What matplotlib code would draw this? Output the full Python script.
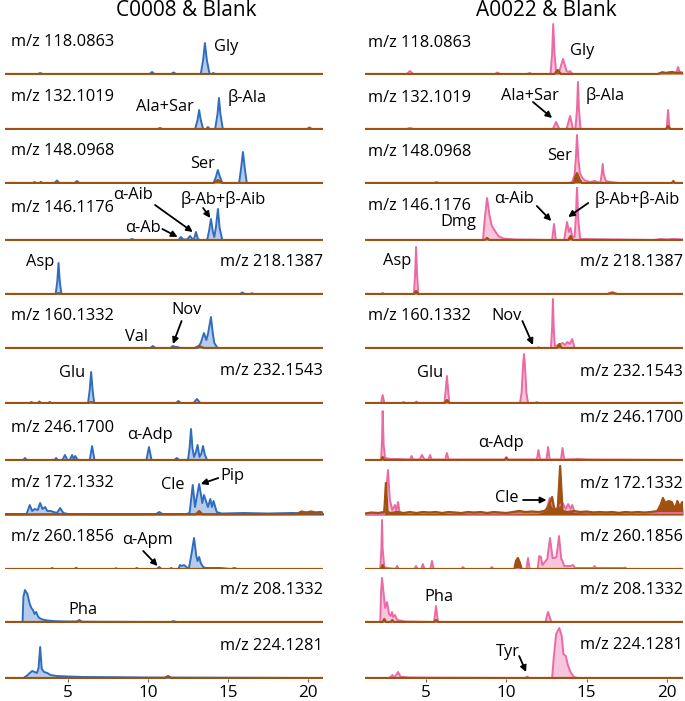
"""
Extracted ion chromatograms, C0008 and A0022 against procedural blank
"""

import matplotlib.pyplot as plt

#---------------------------------------------------------------------------------------------------
# Data (retention time in min, relative intensity)
#---------------------------------------------------------------------------------------------------

# C0008 (left column)
c118_t = [1, 3.1, 3.25, 3.4, 10.1, 10.25, 10.4, 11.45, 11.6, 11.75, 13.3, 13.45, 13.56, 13.68, 13.85,
          14.0, 14.08, 14.2, 21]
c118_y = [0, 0, 1, 0, 0, 2, 0, 0, 1.5, 0, 0, 14, 31, 14, 0, 0, 1, 0, 0]

c132_t = [1, 10.6, 10.75, 10.9, 12.95, 13.1, 13.2, 13.3, 13.45, 13.65, 13.75, 13.85, 14.2, 14.35,
          14.44, 14.53, 14.68, 19.95, 20.1, 20.25, 21]
c132_y = [0, 0, 1, 0, 0, 9, 19, 9, 0, 0, 2, 0, 0, 15, 31, 15, 0, 0, 1.5, 0, 0]

c148_t = [1, 2.8, 2.9, 3.0, 3.2, 3.3, 3.4, 4.15, 4.3, 4.45, 5.4, 5.56, 5.7, 14.1, 14.25, 14.37, 14.5,
          14.65, 15.7, 15.82, 15.94, 16.06, 16.18, 21]
c148_y = [0, 0, 1, 0, 0, 1.2, 0, 0, 2.5, 0, 0, 2, 0, 0, 6, 13, 6, 0, 0, 14, 31, 14, 0, 0]
c148b_t = [1, 14.1, 14.37, 14.65, 21]
c148b_y = [0, 0, 3, 0, 0]

c146_t = [1, 8.85, 9.0, 9.15, 11.9, 12.06, 12.2, 12.45, 12.63, 12.8, 12.88, 13.0, 13.12, 13.25, 13.7,
          13.82, 13.94, 14.06, 14.15, 14.25, 14.375, 14.48, 14.65, 21]
c146_y = [0, 0, 1, 0, 0, 3, 0.5, 0.5, 4, 0.5, 1, 8, 1, 0, 0, 9, 21, 8, 3, 13, 31, 12, 0, 0]

c218_t = [1, 4.22, 4.32, 4.4, 4.48, 4.58, 15.75, 15.9, 16.05, 16.4, 16.5, 16.6, 21]
c218_y = [0, 0, 12, 31, 12, 0, 0, 1.5, 0, 0, 0.8, 0, 0]
c218b_t = [1, 4.3, 4.4, 4.5, 21]
c218b_y = [0, 0, 1, 0, 0]

c160_t = [1, 10.15, 10.3, 10.45, 11.4, 11.56, 11.7, 11.85, 12.0, 13.1, 13.3, 13.5, 13.65, 13.75, 13.94,
          14.05, 14.15, 14.35, 21]
c160_y = [0, 0, 2, 0, 0, 2, 1, 1, 0, 0, 5, 15, 8, 14, 31, 15, 5, 0, 0]
c160b_t = [1, 12.9, 13.2, 13.5, 21]
c160b_y = [0, 0, 2, 0, 0]

c232_t = [1, 2.6, 2.7, 2.8, 3.1, 3.2, 3.3, 3.75, 3.85, 3.95, 6.25, 6.35, 6.44, 6.53, 6.63, 11.75, 11.9,
          12.05, 12.85, 13.06, 13.27, 21]
c232_y = [0, 0, 1, 0, 0, 1.5, 0, 0, 1, 0, 0, 13, 31, 13, 0, 0, 2, 0, 0, 4, 0, 0]
c232b_t = [1, 6.3, 6.44, 6.6, 21]
c232b_y = [0, 0, 1, 0, 0]

c246_t = [1, 2.2, 2.3, 2.4, 4.15, 4.25, 4.35, 4.65, 4.8, 4.95, 5.1, 5.25, 5.35, 5.45, 5.55, 5.65, 6.35,
          6.5, 6.65, 9.9, 10.06, 10.22, 11.65, 11.8, 11.95, 12.5, 12.6, 12.69, 12.78, 12.88, 13.0, 13.1,
          13.22, 13.33, 13.44, 13.56, 13.7, 21]
c246_y = [0, 0, 2, 0, 0, 2, 0, 0, 5, 0, 0, 5, 1, 4, 1, 0, 0, 14, 0, 0, 13, 0, 0, 2, 0, 0, 12, 31, 12,
          3, 8, 15, 3, 6, 14, 5, 0, 0]

c172_t = [1, 2.4, 2.6, 2.75, 2.9, 3.1, 3.25, 3.4, 3.56, 3.7, 3.9, 4.1, 4.3, 4.5, 4.7, 5.0, 6.5, 8,
          10.5, 10.7, 10.9, 12.4, 12.6, 12.8, 12.94, 13.2, 13.4, 13.5, 13.75, 13.9, 14.0, 14.1, 14.3,
          14.6, 16, 17.5, 19, 21]
c172_y = [1, 1, 10, 4, 6, 5, 12, 6, 8, 4, 4, 3, 2, 7, 2, 1, 1, 1, 1, 3, 1, 1, 2, 30, 8, 31, 12, 20, 8,
          16, 8, 14, 3, 1.5, 2, 1.5, 2, 1.5]
c172b_t = [1, 4, 8, 12, 13.0, 13.2, 13.4, 16, 19.3, 19.6, 19.9, 20.2, 20.5, 20.8, 21]
c172b_y = [0.5, 0.8, 0.5, 0.8, 0.8, 4, 0.8, 0.8, 1, 3.5, 2.5, 3.5, 2.5, 3, 2]

c260_t = [1, 3.9, 4.0, 4.1, 5.4, 5.5, 5.6, 7.9, 8.0, 8.1, 9.2, 9.3, 9.4, 10.55, 10.7, 10.85, 11.35,
          11.45, 11.55, 11.9, 12.0, 12.1, 12.25, 12.55, 12.7, 12.88, 13.02, 13.1, 13.2, 13.3, 13.45,
          13.6, 14.5, 15.2, 15.4, 15.6, 21]
c260_y = [0, 0, 1, 0, 0, 1.2, 0, 0, 0.8, 0, 0, 1, 0, 0, 2, 0, 0, 1, 0, 0, 4, 3, 4, 0, 13, 31, 13, 8,
          12, 6, 2, 1, 1, 0, 1, 0, 0]

c208_t = [1, 2.15, 2.2, 2.3, 2.45, 2.6, 2.7, 2.8, 2.9, 3.0, 3.1, 3.2, 3.4, 3.7, 4.2, 5.0, 5.55, 5.7,
          5.85, 7, 11.4, 11.6, 11.8, 21]
c208_y = [0, 0, 25, 32, 28, 18, 14, 12, 8, 10, 6, 4, 2.5, 1.5, 0.8, 0.5, 0.5, 2, 0.3, 0.2, 0, 0.8, 0, 0]
c208b_t = [1, 5.55, 5.7, 5.85, 21]
c208b_y = [0, 0, 1, 0, 0]

c224_t = [1, 2.2, 2.4, 2.6, 2.75, 2.9, 3.05, 3.15, 3.25, 3.35, 3.5, 3.7, 3.9, 4.3, 5.0, 6.0, 8, 10, 21]
c224_y = [0, 0, 2, 5, 7, 6, 5, 10, 31, 9, 6, 5, 3, 2, 1.5, 1, 0.8, 0.5, 0]
c224b_t = [1, 11.05, 11.25, 11.45, 21]
c224b_y = [0, 0, 2, 0, 0]

cflat_t = [1, 21]
cflat_y = [0, 0]

# A0022 (right column)
a118_t = [1.2, 3.8, 4.0, 4.2, 9.3, 9.45, 9.6, 11.3, 11.45, 11.6, 12.75, 12.85, 12.92, 13.0, 13.1, 13.3,
          13.53, 13.75, 13.9, 13.97, 14.05, 14.2, 19.5, 19.7, 19.9, 20.2, 20.5, 20.6, 20.7, 20.8, 21]
a118_y = [0, 0, 3, 0, 0, 1.5, 0, 0, 1, 0, 0, 20, 50, 20, 2, 3, 15, 3, 2, 3, 1, 0, 0, 2, 1, 2, 1, 2, 7,
          1, 1]
a118b_t = [1.2, 13.0, 13.2, 13.4, 19.4, 19.7, 20.0, 20.3, 20.6, 20.9, 21]
a118b_y = [0, 0, 4, 0, 0, 1.5, 1, 2, 1, 1.5, 1]

a132_t = [1.2, 3.8, 4.0, 4.2, 12.9, 13.1, 13.3, 13.75, 13.97, 14.15, 14.3, 14.4, 14.46, 14.52, 14.62,
          19.98, 20.02, 20.07, 20.12, 20.17, 21]
a132_y = [0, 0, 1, 0, 0, 7, 0, 0, 13, 0, 0, 20, 47, 20, 0, 0, 8, 19, 8, 0, 0]
a132b_t = [1.2, 19.95, 20.07, 20.2, 21]
a132b_y = [0, 0, 3, 0, 0]

a148_t = [1.2, 5.5, 5.65, 5.8, 13.9, 14.1, 14.25, 14.33, 14.4, 14.48, 14.58, 14.7, 14.85, 15.0, 15.2,
          15.5, 15.85, 15.93, 16.0, 16.07, 16.2, 16.5, 17.0, 21]
a148_y = [0, 0, 1, 0, 0, 1, 8, 25, 48, 25, 10, 6, 3, 2, 1, 2, 0, 8, 19, 8, 2, 1, 0, 0]
a148b_t = [1.2, 14.2, 14.3, 14.4, 14.55, 14.7, 20.3, 20.4, 20.5, 21]
a148b_y = [0, 0, 6, 10, 4, 0, 0, 2, 0, 0]

a146_t = [1.2, 8.55, 8.65, 8.8, 8.95, 9.1, 9.3, 9.5, 9.8, 10.5, 12.85, 12.97, 13.08, 13.6, 13.78, 13.9,
          14.0, 14.1, 14.25, 14.32, 14.4, 14.48, 14.6, 19.2, 19.6, 20.0, 20.4, 21]
a146_y = [0, 0, 20, 42, 25, 14, 9, 4, 1.5, 0.5, 0, 16, 0, 0, 18, 8, 12, 4, 3, 20, 53, 20, 1, 0, 1, 0.5,
          1, 0.5]
a146b_t = [1.2, 8.65, 8.8, 8.95, 13.85, 14.0, 14.15, 21]
a146b_y = [0, 0, 2, 0, 0, 4, 0, 0]

a218_t = [1.2, 2.2, 2.3, 2.4, 4.25, 4.32, 4.38, 4.44, 4.52, 16.3, 16.6, 16.9, 21]
a218_y = [0, 0, 1, 0, 0, 20, 47, 20, 0, 0, 2, 0, 0]
a218b_t = [1.2, 4.25, 4.38, 4.52, 16.3, 16.6, 16.9, 21]
a218b_y = [0, 0, 3, 0, 0, 1, 0, 0]

a160_t = [1.2, 11.9, 12.0, 12.1, 12.78, 12.85, 12.9, 12.95, 13.02, 13.25, 13.5, 13.65, 13.8, 13.95,
          14.1, 14.25, 21]
a160_y = [0, 0, 0.8, 0, 0, 20, 49, 20, 2, 3, 5, 3, 6, 4, 9, 0, 0]
a160b_t = [1.2, 13.15, 13.3, 13.45, 21]
a160b_y = [0, 0, 4, 0, 0]

a232_t = [1.2, 2.2, 2.3, 2.4, 3.5, 3.6, 3.7, 4.3, 4.4, 4.5, 6.15, 6.22, 6.3, 6.38, 6.45, 10.85, 10.95,
          11.05, 11.1, 11.15, 11.25, 11.35, 11.8, 11.9, 12.0, 21]
a232_y = [0, 0, 8, 0, 0, 1, 0, 0, 1.5, 0, 0, 12, 27, 12, 0, 0, 10, 40, 49, 40, 10, 0, 0, 1, 0, 0]
a232b_t = [1.2, 6.15, 6.3, 6.45, 21]
a232b_y = [0, 0, 3, 0, 0]

a246_t = [1.2, 2.2, 2.26, 2.3, 2.36, 2.45, 2.8, 3.3, 4.0, 4.1, 4.2, 4.6, 4.75, 4.9, 5.15, 5.25, 5.35,
          6.2, 6.3, 6.4, 9.9, 10.0, 10.1, 11.9, 12.0, 12.1, 12.5, 12.6, 12.7, 13.4, 13.5, 13.6, 14.5,
          15.0, 21]
a246_y = [0, 0, 20, 49, 15, 2, 1, 1, 0.5, 4, 0.5, 0.5, 5, 0.5, 0.5, 5, 0.5, 0.5, 7, 0.5, 0.5, 3, 0.5,
          0.5, 10, 0.5, 0.5, 13, 0.5, 0.5, 12, 0.5, 1, 0.5, 0]
a246b_t = [1.2, 2.2, 2.3, 2.4, 9.9, 10.0, 10.1, 21]
a246b_y = [0, 0, 3, 0, 0, 2, 0, 0]

a172_t = [1.2, 2.4, 2.5, 2.63, 2.75, 2.9, 3.07, 3.15, 3.26, 3.35, 3.5, 4.5, 6, 8, 10, 12.0, 12.5, 12.7,
          12.9, 13.1, 13.5, 13.7, 13.85, 14.0, 14.1, 14.25, 15, 16, 18, 21]
a172_y = [1, 1, 20, 45, 15, 5, 10, 4, 13, 3, 2, 2, 2, 1.5, 1.5, 2, 5, 17, 8, 6, 12, 6, 11, 6, 10, 3,
          2.5, 2.5, 2, 2]
a172b_t = [1.2, 1.6, 2.0, 2.4, 2.5, 2.6, 2.8, 3.2, 3.6, 4.0, 4.4, 4.8, 5.2, 5.6, 6.0, 6.4, 6.8, 7.2,
           7.6, 8.0, 8.4, 8.8, 9.2, 9.6, 10.0, 10.4, 10.8, 11.2, 11.6, 12.0, 12.4, 12.6, 12.85, 13.0,
           13.2, 13.35, 13.5, 13.8, 14.2, 14.6, 15.0, 15.4, 15.8, 16.2, 16.6, 17.0, 17.4, 17.8, 18.2,
           18.6, 19.0, 19.4, 19.6, 19.75, 19.9, 20.1, 20.3, 20.5, 20.65, 20.8, 20.95, 21]
a172b_y = [1.5, 2.5, 2, 3, 32, 3, 2, 3, 2, 3, 2, 3, 2.5, 3, 2, 3, 2.5, 2, 3, 2.5, 3, 2, 3, 2.5, 2, 3, 4,
           3, 3.5, 3, 4, 8, 18, 5, 6, 49, 4, 3, 4, 3, 3.5, 2.5, 3, 2.5, 3, 2, 3, 2.5, 3, 2.5, 3, 4, 10,
           17, 12, 14, 13, 6, 14, 8, 13, 4]

a260_t = [1.2, 2.15, 2.22, 2.26, 2.3, 2.4, 2.6, 3.1, 3.2, 3.3, 4.28, 4.38, 4.48, 4.7, 4.8, 4.9, 5.27,
          5.37, 5.47, 7.2, 7.3, 7.4, 9.0, 9.1, 9.2, 11.25, 11.35, 11.45, 11.95, 12.05, 12.15, 12.25,
          12.55, 12.72, 12.88, 13.0, 13.12, 13.28, 13.42, 13.5, 13.6, 14.0, 14.15, 14.3, 15.4, 15.5,
          15.6, 17.3, 17.4, 17.5, 21]
a260_y = [0, 0, 20, 49, 20, 2, 1, 0, 3, 0, 0, 3, 0, 0, 5, 0, 0, 8, 0, 0, 2, 0, 0, 2, 0, 0, 11, 0, 0,
          13, 12, 4, 10, 31, 11, 11, 12, 33, 10, 8, 3, 3, 4, 1, 1, 3, 1, 1, 1.5, 0, 0]
a260b_t = [1.2, 2.2, 2.3, 2.4, 10.5, 10.6, 10.72, 10.85, 10.95, 21]
a260b_y = [0, 0, 4, 0, 0, 8, 11, 6, 0, 0]

a208_t = [1.2, 2.15, 2.2, 2.26, 2.35, 2.45, 2.57, 2.7, 2.8, 2.88, 2.95, 3.07, 3.2, 3.4, 3.7, 5.5, 5.56,
          5.62, 5.68, 5.75, 12.45, 12.52, 12.6, 12.7, 12.8, 21]
a208_y = [0, 0, 30, 44, 30, 14, 20, 8, 6, 10, 5, 7, 2, 1.5, 0.5, 0, 8, 16, 8, 0, 0, 6, 10, 5, 0, 0]
a208b_t = [1.2, 2.3, 2.4, 2.5, 2.8, 2.9, 3.0, 5.5, 5.62, 5.75, 21]
a208b_y = [0, 0, 3, 0, 0, 2, 0, 0, 2, 0, 0]

a224_t = [1.2, 2.7, 2.8, 2.9, 3.0, 3.1, 3.26, 3.4, 3.6, 4.0, 6.0, 11.2, 11.3, 11.4, 12.85, 12.95, 13.1,
          13.3, 13.45, 13.55, 13.7, 13.85, 14.0, 14.2, 14.45, 21]
a224_y = [0, 0, 1, 3, 1, 2, 6, 1.5, 1, 0.5, 0.3, 0, 1.5, 0, 0, 20, 44, 50, 42, 24, 22, 12, 6, 1, 0, 0]

aflat_t = [1.2, 21]
aflat_y = [0, 0]

mz_labels = ['m/z 118.0863', 'm/z 132.1019', 'm/z 148.0968', 'm/z 146.1176', 'm/z 218.1387',
             'm/z 160.1332', 'm/z 232.1543', 'm/z 246.1700', 'm/z 172.1332', 'm/z 260.1856',
             'm/z 208.1332', 'm/z 224.1281']

left_traces = [(c118_t, c118_y, cflat_t, cflat_y), (c132_t, c132_y, cflat_t, cflat_y),
               (c148_t, c148_y, c148b_t, c148b_y), (c146_t, c146_y, cflat_t, cflat_y),
               (c218_t, c218_y, c218b_t, c218b_y), (c160_t, c160_y, c160b_t, c160b_y),
               (c232_t, c232_y, c232b_t, c232b_y), (c246_t, c246_y, cflat_t, cflat_y),
               (c172_t, c172_y, c172b_t, c172b_y), (c260_t, c260_y, cflat_t, cflat_y),
               (c208_t, c208_y, c208b_t, c208b_y), (c224_t, c224_y, c224b_t, c224b_y)]
right_traces = [(a118_t, a118_y, a118b_t, a118b_y), (a132_t, a132_y, a132b_t, a132b_y),
                (a148_t, a148_y, a148b_t, a148b_y), (a146_t, a146_y, a146b_t, a146b_y),
                (a218_t, a218_y, a218b_t, a218b_y), (a160_t, a160_y, a160b_t, a160b_y),
                (a232_t, a232_y, a232b_t, a232b_y), (a246_t, a246_y, a246b_t, a246b_y),
                (a172_t, a172_y, a172b_t, a172b_y), (a260_t, a260_y, a260b_t, a260b_y),
                (a208_t, a208_y, a208b_t, a208b_y), (a224_t, a224_y, aflat_t, aflat_y)]

#---------------------------------------------------------------------------------------------------
# Layout / labels
#---------------------------------------------------------------------------------------------------

# which side the m/z label sits on, and its height
left_mz_side = ['l', 'l', 'l', 'l', 'r', 'l', 'r', 'l', 'l', 'l', 'r', 'r']
right_mz_side = ['l', 'l', 'l', 'l', 'r', 'l', 'r', 'r', 'r', 'r', 'r', 'r']
right_mz_h = [31, 31, 31, 34, 32, 32, 31, 42, 31, 32, 32, 33]

# compound labels: (row, text, x, y)
left_names = [(0, 'Gly', 14.9, 27), (1, 'Ala+Sar', 11.06, 22), (1, 'β-Ala', 16.2, 31),
              (2, 'Ser', 13.4, 19), (3, 'α-Aib', 9.06, 45), (3, 'α-Ab', 9.7, 12),
              (3, 'β-Ab+β-Aib', 14.7, 41), (4, 'Asp', 3.25, 32), (5, 'Val', 9.3, 11),
              (5, 'Nov', 12.4, 38), (6, 'Glu', 5.25, 30), (7, 'α-Adp', 10.1, 25),
              (8, 'Cle', 11.56, 30), (8, 'Pip', 15.3, 39), (9, 'α-Apm', 9.94, 29),
              (10, 'Pha', 5.9, 12)]
right_names = [(0, 'Gly', 14.7, 23), (1, 'Ala+Sar', 11.5, 33), (1, 'β-Ala', 16.15, 33),
               (2, 'Ser', 13.3, 27), (3, 'Dmg', 7.0, 18), (3, 'α-Aib', 10.5, 41),
               (3, 'β-Ab+β-Aib', 18.15, 40), (4, 'Asp', 3.2, 33), (5, 'Nov', 10.0, 32),
               (6, 'Glu', 5.25, 30), (7, 'α-Adp', 9.67, 17), (8, 'Cle', 10.05, 17),
               (10, 'Pha', 5.8, 25), (11, 'Tyr', 10.1, 26)]

# arrows: (row, start x, start y, tip x, tip y)
left_arrows = [(3, 10.44, 35, 12.8, 8), (3, 10.9, 11, 11.85, 3), (3, 13.45, 32, 13.9, 22),
               (5, 12.1, 27, 11.56, 4), (8, 14.4, 37, 13.3, 31), (9, 9.7, 18, 10.6, 3)]
right_arrows = [(1, 11.66, 27, 12.85, 11), (3, 11.9, 34, 12.8, 19), (3, 15.1, 37, 13.85, 23),
                (5, 11.0, 27, 11.66, 3), (8, 11.04, 15, 12.5, 15), (11, 10.8, 22, 11.23, 6)]

baseline_px = [74, 129, 183, 240, 294, 348, 403, 460, 515, 569, 622, 678]

plt.rcParams['font.family'] = ['Open Sans', 'DejaVu Sans']
fontsize = 11.8

blue, blue_fill = '#2f6dc0', '#b8cbea'
pink, pink_fill = '#ec6aa3', '#f7c5dc'
brown = '#a0500f'

W, H = 685, 701
fig = plt.figure(figsize=(W / 100, H / 100), dpi=100)

columns = [
    dict(x0=5, traces=left_traces, side=left_mz_side, mzh=[32] * 12, pad=0.018, names=left_names,
         arrows=left_arrows, line=blue, fill=blue_fill, xlim=(1.05, 20.95), title='C0008 & Blank'),
    dict(x0=365, traces=right_traces, side=right_mz_side, mzh=right_mz_h, pad=0.01,
         names=right_names, arrows=right_arrows, line=pink, fill=pink_fill, xlim=(1.2, 21.0),
         title='A0022 & Blank'),
]

for col in columns:
    axes = []
    for i, (t, y, tb, yb) in enumerate(col['traces']):
        b = baseline_px[i] + 1
        ax = fig.add_axes([col['x0'] / W, 1 - b / H, 318 / W, 54 / H])
        axes.append(ax)
        ax.fill_between(t, y, 0, color=col['fill'], lw=0)
        ax.plot(t, y, color=col['line'], lw=1.4, solid_joinstyle='round')
        ax.fill_between(tb, yb, 0, color=brown, lw=0)
        ax.plot(tb, yb, color=brown, lw=1.6)
        ax.set_xlim(*col['xlim'])
        ax.set_ylim(-1, 53)
        for s in ax.spines.values():
            s.set_visible(False)
        ax.set_yticks([])
        if i < 11:
            ax.set_xticks([])
        else:
            ax.set_xticks([5, 10, 15, 20])
            ax.tick_params(axis='x', length=2, pad=2, color='0.4', labelsize=fontsize + 0.5)

        # m/z label
        if col['side'][i] == 'l':
            ax.text(col['pad'], col['mzh'][i], mz_labels[i], ha='left', va='center', size=fontsize,
                    transform=ax.get_yaxis_transform())
        else:
            ax.text(1.0, col['mzh'][i], mz_labels[i], ha='right', va='center', size=fontsize,
                    transform=ax.get_yaxis_transform())

    for row, txt, x, y in col['names']:
        axes[row].text(x, y, txt, ha='center', va='center', size=fontsize, clip_on=False)

    for row, x0, y0, x1, y1 in col['arrows']:
        axes[row].annotate('', xy=(x1, y1), xytext=(x0, y0), annotation_clip=False,
                           arrowprops=dict(arrowstyle='-|>', color='k', lw=1.3,
                                           mutation_scale=9, shrinkA=0, shrinkB=0))

    fig.text((col['x0'] + 181) / W, 1 - 11 / H, col['title'], ha='center', va='center', size=15)

plt.savefig('out.png', dpi=100)
plt.close()
